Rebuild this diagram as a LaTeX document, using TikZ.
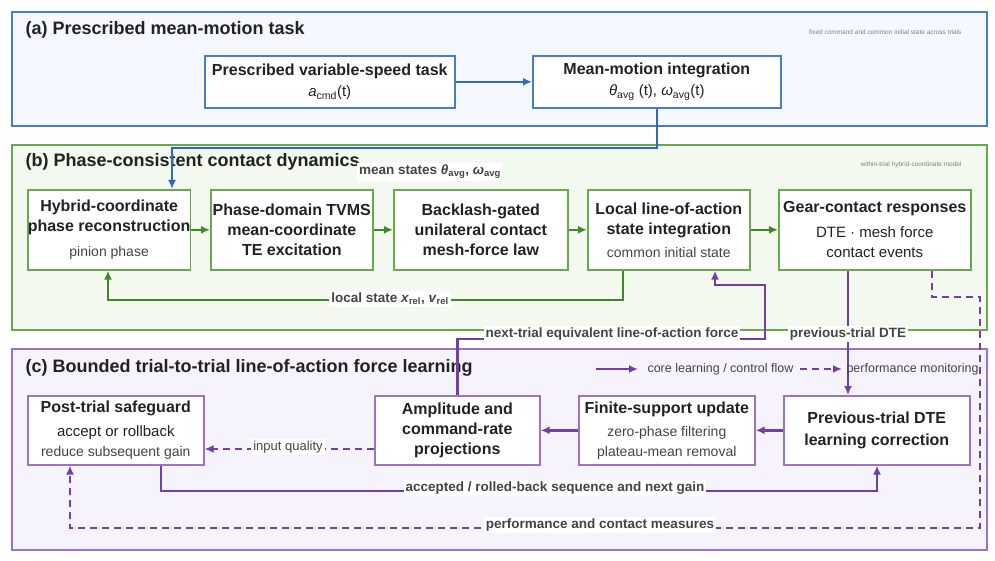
\documentclass[tikz,border=0pt]{standalone}
\usepackage{fontspec}
\setmainfont{Liberation Sans}
\usetikzlibrary{positioning, calc, arrows.meta}
\definecolor{blueline}{HTML}{4A7CC9}
\definecolor{blueflow}{HTML}{2F68BE}
\definecolor{bluefill}{HTML}{F5F8FE}
\definecolor{greenline}{HTML}{6AA84F}
\definecolor{greenflow}{HTML}{3E8A2A}
\definecolor{greenfill}{HTML}{F4F9F0}
\definecolor{purpleline}{HTML}{9B72C9}
\definecolor{purpleflow}{HTML}{7040A8}
\definecolor{purplefill}{HTML}{F7F3FC}
\definecolor{txt}{HTML}{222222}
\definecolor{subtxt}{HTML}{444444}
\newcommand{\subl}[1]{{\fontsize{14}{19}\selectfont\mdseries\color{subtxt}#1}}
\newcommand{\midl}[1]{{\fontsize{15}{20}\selectfont\mdseries #1}}
\tikzset{
  Flow/.style = {line width=2.4pt, -{Latex[length=9pt,width=8pt]}},
  Monitor/.style = {line width=2pt, dash pattern=on 7pt off 5pt, -{Latex[length=9pt,width=8pt]}},
  lbl/.style = {fill=white, inner sep=2pt, font=\fontsize{13.5}{16}\selectfont\bfseries, text=subtxt}
}
\begin{document}
\begin{tikzpicture}[x=1pt, y=-1pt,
    panel/.style = {line width=1.6pt},
    stage/.style = {draw, line width=1.6pt, fill=white, anchor=north west, align=center, inner sep=0pt, text=txt, font=\fontsize{16}{20}\selectfont\bfseries},
    sub/.style = {font=\fontsize{12.5}{15}\selectfont, text=subtxt},
    note/.style = {font=\fontsize{6.5}{8}\selectfont, text=gray, anchor=east},
    title/.style = {font=\fontsize{18}{22}\selectfont\bfseries, text=txt, anchor=west}
  ]
  \useasboundingbox (0,0) rectangle (995,561);
  % panels
  \draw[panel, draw=blueline, fill=bluefill] (12,12) rectangle (987,126);
  \draw[panel, draw=greenline, fill=greenfill] (12,145) rectangle (987,330);
  \draw[panel, draw=purpleline, fill=purplefill] (12,349) rectangle (987,550);
  \node[title] (ta) at (22,30) {(a) Prescribed mean-motion task};
  \node[title] (tb) at (22,162) {(b) Phase-consistent contact dynamics};
  \node[title] (tc) at (22,368) {(c) Bounded trial-to-trial line-of-action force learning};
  \node[note] (na) at (965,32) {fixed command and common initial state across trials};
  \node[note] (nb) at (965,165) {within-trial hybrid-coordinate model};

  % (a) boxes
  \node[stage, draw=blueline, minimum width=250pt, minimum height=52pt] (task) at (204,55)
    {Prescribed variable-speed task\\[1pt]\midl{\textit{a}\textsubscript{cmd}(t)}};
  \node[stage, draw=blueline, minimum width=248pt, minimum height=52pt] (mean) at (532,55)
    {Mean-motion integration\\[1pt]\midl{\textit{θ}\textsubscript{avg} (t), \textit{ω}\textsubscript{avg}(t)}};

  % (b) boxes
  \node[stage, draw=greenline, minimum width=162pt, minimum height=80pt] (hyb) at (27,189)
    {Hybrid-coordinate\\phase reconstruction\\[5pt]\subl{pinion phase}};
  \node[stage, draw=greenline, minimum width=162pt, minimum height=80pt] (tvms) at (210,189)
    {Phase-domain TVMS\\mean-coordinate\\TE excitation};
  \node[stage, draw=greenline, minimum width=174pt, minimum height=80pt] (gate) at (393,189)
    {Backlash-gated\\unilateral contact\\mesh-force law};
  \node[stage, draw=greenline, minimum width=162pt, minimum height=80pt] (loa) at (587,189)
    {Local line-of-action\\state integration\\[3pt]\subl{common initial state}};
  \node[stage, draw=greenline, minimum width=192pt, minimum height=80pt] (resp) at (778,189)
    {Gear-contact responses\\[5pt]\midl{DTE · mesh force}\\\midl{contact events}};

  % (c) boxes
  \node[stage, draw=purpleline, minimum width=176pt, minimum height=69pt] (safe) at (27,395)
    {Post-trial safeguard\\[4pt]\midl{accept or rollback}\\\subl{reduce subsequent gain}};
  \node[stage, draw=purpleline, minimum width=165pt, minimum height=69pt] (proj) at (374,395)
    {Amplitude and\\command-rate\\projections};
  \node[stage, draw=purpleline, minimum width=176pt, minimum height=69pt] (fin) at (578,395)
    {Finite-support update\\[3pt]\subl{zero-phase filtering}\\\subl{plateau-mean removal}};
  \node[stage, draw=purpleline, minimum width=186pt, minimum height=69pt] (corr) at (783,395)
    {Previous-trial DTE\\[2pt]learning correction};

  % (a) flows
  \draw[Flow, blueflow] (task.east) -- (mean.west);
  \draw[Flow, blueflow] (mean.south) |- (172,148) -- (hyb.north -| 172,0);
  \node[lbl] (ms) at (430,172) {mean states \textit{θ}\textsubscript{avg}, \textit{ω}\textsubscript{avg}};

  % (b) flows
  \draw[Flow, greenflow] (hyb.east) -- (tvms.west);
  \draw[Flow, greenflow] (tvms.east) -- (gate.west);
  \draw[Flow, greenflow] (gate.east) -- (loa.west);
  \draw[Flow, greenflow] (loa.east) -- (resp.west);
  \draw[Flow, greenflow] (loa.south -| 623,0) |- (108,300) -- (hyb.south -| 108,0);
  \node[lbl] (ls) at (390,299) {local state \textit{x}\textsubscript{rel}, \textit{v}\textsubscript{rel}};

  % (c) flows
  \draw[Flow, purpleflow] (proj.north) |- (765,339) |- (715,285) -- (loa.south -| 715,0);
  \node[lbl] (nt) at (612,334) {next-trial equivalent line-of-action force};
  \draw[Flow, purpleflow] (resp.south -| 848,0) -- (corr.north -| 848,0);
  \node[lbl] (pt) at (848,334) {previous-trial DTE};
  \draw[Flow, purpleflow] (corr.west) -- (fin.east);
  \draw[Flow, purpleflow] (fin.west) -- (proj.east);
  \draw[Monitor, purpleflow] (proj.west |- 0,449) -- (safe.east |- 0,449);
  \node[lbl, font=\fontsize{13}{15}\selectfont] (iq) at (288,447) {input quality};
  \draw[Flow, purpleflow] (safe.south -| 161,0) |- (877,491) -- (corr.south -| 877,0);
  \node[lbl] (ac) at (555,488) {accepted / rolled-back sequence and next gain};
  \draw[Monitor, purpleflow] (resp.south -| 932,0) |- (980,297) |- (70,528) -- (safe.south -| 70,0);
  \node[lbl] (pc) at (600,525) {performance and contact measures};

  % legend
  \coordinate (l1) at (596,369);
  \coordinate (l2) at (638,369);
  \draw[Flow, purpleflow] (l1) -- (l2);
  \node[sub, anchor=west] (lt1) at (644,369) {core learning / control flow};
  \coordinate (l3) at (800,369);
  \coordinate (l4) at (842,369);
  \draw[Monitor, purpleflow] (l3) -- (l4);
  \node[sub, anchor=west] (lt2) at (843,369) {performance monitoring};
\end{tikzpicture}
\end{document}
